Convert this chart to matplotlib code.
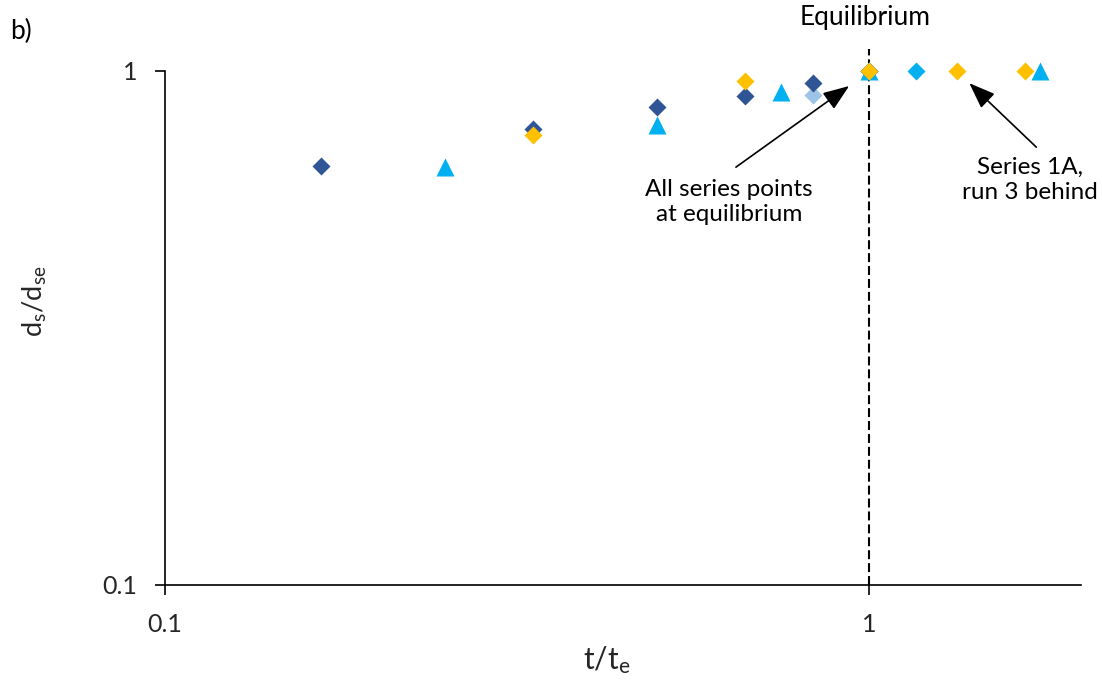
import matplotlib
matplotlib.use("Agg")
import matplotlib.pyplot as plt

plt.rcParams['font.family'] = ['Lato', 'DejaVu Sans']
plt.rcParams['mathtext.default'] = 'regular'

# Dimensionless scour depth d_s/d_se against dimensionless time t/t_e
dark_x = [1/6, 1/3, 1/2, 2/3, 5/6, 1.0]
dark_y = [0.653, 0.77, 0.85, 0.895, 0.948, 1.0]

tri_x = [0.25, 0.5, 0.75, 1.0, 1.75]
tri_y = [0.65, 0.785, 0.912, 1.0, 1.0]

gold_x = [1/3, 2/3, 1.0, 4/3, 5/3]
gold_y = [0.75, 0.955, 1.0, 1.0, 1.0]

light_x = [5/6, 1.0]
light_y = [0.897, 1.0]

cyan_x = [1.0, 7/6]
cyan_y = [1.0, 1.0]

x_ticks = [0.1, 1]
x_tick_labels = ['0.1', '1']
y_ticks = [0.1, 1]
y_tick_labels = ['0.1', '1']

W, H = 1102, 682
fig = plt.figure(figsize=(W / 100, H / 100), dpi=100)


def fx(px):
    return px / W


def fy(py):
    return 1 - py / H


ax = fig.add_axes([fx(165), fy(585), fx(1081) - fx(165), fy(71) - fy(585)])
ax.set_xscale('log')
ax.set_yscale('log')
ax.set_xlim(0.1, 2.0)
ax.set_ylim(0.1, 1.0)

ax.plot(light_x, light_y, 'D', color='#9DC3E6', ms=9.5, mec='none', zorder=3, clip_on=False)
ax.plot(tri_x, tri_y, '^', color='#00B0F0', ms=13.5, mec='none', zorder=4, clip_on=False)
ax.plot(dark_x, dark_y, 'D', color='#2F5597', ms=9.5, mec='none', zorder=5, clip_on=False)
ax.plot(cyan_x, cyan_y, 'D', color='#00B0F0', ms=9.5, mec='none', zorder=6, clip_on=False)
ax.plot(gold_x, gold_y, 'D', color='#FFC000', ms=9.5, mec='none', zorder=7, clip_on=False)

# equilibrium marker line
ax.plot([1, 1], [0.1, 1.104], color='black', lw=1.5, dashes=(4.3, 1.9),
        clip_on=False, zorder=2)

for sp in ['top', 'right']:
    ax.spines[sp].set_visible(False)
for sp in ['left', 'bottom']:
    ax.spines[sp].set_linewidth(1.2)
    ax.spines[sp].set_color('black')

ax.set_xticks(x_ticks)
ax.set_xticklabels(x_tick_labels)
ax.set_yticks(y_ticks)
ax.set_yticklabels(y_tick_labels)
ax.minorticks_off()
ax.tick_params(axis='both', direction='out', length=7, width=1.2,
               labelsize=18, color='black', labelcolor='#262626', pad=13)

fig.text(fx(35), fy(301), 'd$_s$/d$_{se}$', rotation=90, fontsize=19.5,
         ha='center', va='center', color='#262626')
fig.text(fx(607), fy(660), 't/t$_e$', fontsize=21.5, ha='center', va='center',
         color='#262626')
fig.text(fx(21), fy(31), 'b)', fontsize=19, ha='center', va='center')
fig.text(fx(865), fy(17), 'Equilibrium', fontsize=19, ha='center', va='center')
fig.text(fx(729), fy(202), 'All series points\nat equilibrium', fontsize=17.5,
         ha='center', va='center', linespacing=1.25)
fig.text(fx(1030), fy(180), 'Series 1A,\nrun 3 behind', fontsize=17.5,
         ha='center', va='center', linespacing=1.25)

arrow = dict(arrowstyle='-|>,head_length=0.85,head_width=0.32', color='black',
             lw=1.2, shrinkA=0, shrinkB=0, mutation_scale=19)
ax.annotate('', xy=(0.937, 0.935), xytext=(0.647, 0.650), arrowprops=arrow,
            annotation_clip=False)
ax.annotate('', xy=(1.388, 0.947), xytext=(1.728, 0.711), arrowprops=arrow,
            annotation_clip=False)

fig.savefig('out.png', dpi=100)
